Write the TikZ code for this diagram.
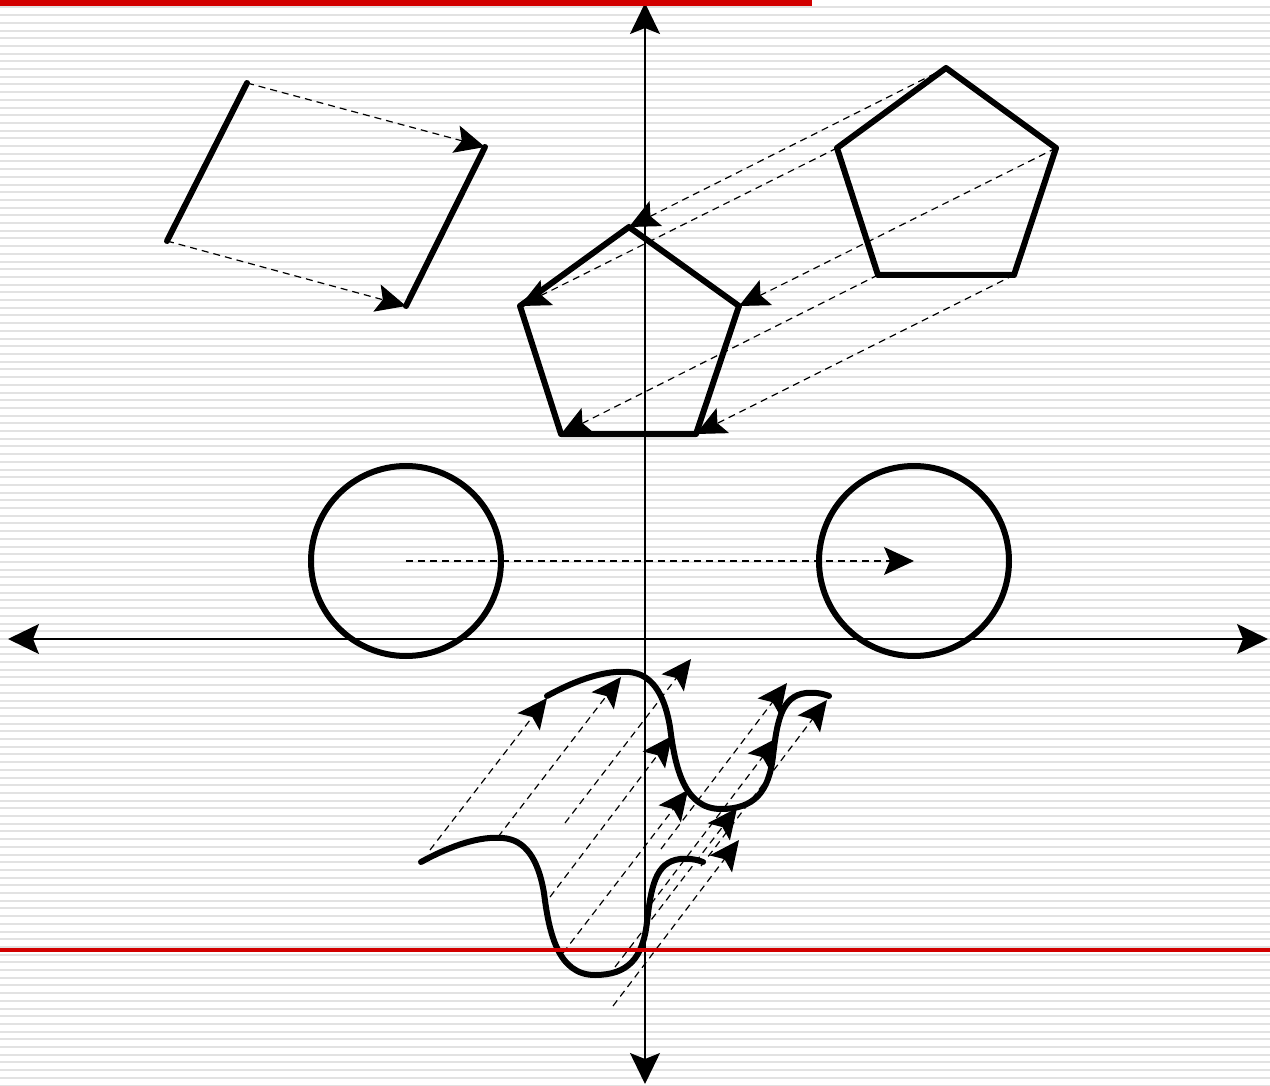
\documentclass[tikz,border=0pt]{standalone}
\usetikzlibrary{arrows.meta}
\definecolor{redline}{RGB}{210,0,0}
\definecolor{stripe}{RGB}{226,226,226}
\begin{document}
\begin{tikzpicture}[x=1pt,y=-1pt,
  shapeline/.style={line width=6pt, line cap=round, line join=round},
  mvarrow/.style={draw, line width=1.2pt, dash pattern=on 7pt off 5pt,
     arrows={-Stealth[length=30pt,width=28pt,inset=6pt]}},
  axisline/.style={line width=1.5pt,
     arrows={Stealth[length=31pt,width=30pt,inset=6pt]-Stealth[length=31pt,width=30pt,inset=6pt]}},
  redrule/.style={redline}]
\useasboundingbox (0,0) rectangle (1270,1086);
\fill[white] (0,0) rectangle (1270,1086);
\foreach \k in {-1,...,140} \fill[stripe] (0,{14.2+7.7*\k}) rectangle (1270,{16.2+7.7*\k});

% coordinates
\coordinate (ytop) at (645,3);
\coordinate (ybot) at (645,1084);
\coordinate (xl) at (8,639);
\coordinate (xr) at (1268,639);

% axes
\draw[axisline] (ytop) -- (ybot);
\draw[axisline] (xl) -- (xr);

% parallelogram (segment translation)
\coordinate (pa) at (247,83);
\coordinate (pb) at (167,241);
\coordinate (qa) at (485,147);
\coordinate (qb) at (406,306);
\draw[mvarrow] (pa) -- (qa);
\draw[mvarrow] (pb) -- (qb);
\draw[shapeline] (pa) -- (pb);
\draw[shapeline] (qa) -- (qb);

% pentagons
\coordinate (R1) at (946,68);
\coordinate (R2) at (1056,148);
\coordinate (R3) at (1014,275);
\coordinate (R4) at (878,275);
\coordinate (R5) at (837,148);
\coordinate (L1) at (629,227);
\coordinate (L2) at (739,306);
\coordinate (L3) at (696,434);
\coordinate (L4) at (561,434);
\coordinate (L5) at (520,306);
\foreach \i in {1,...,5} \draw[mvarrow] (R\i) -- (L\i);
\draw[shapeline] (R1) -- (R2) -- (R3) -- (R4) -- (R5) -- cycle;
\draw[shapeline] (L1) -- (L2) -- (L3) -- (L4) -- (L5) -- cycle;

% circles
\coordinate (c1) at (406,561);
\coordinate (c2) at (914,561);
\draw[mvarrow] (c1) -- (c2);
\draw[shapeline] (c1) circle[radius=95];
\draw[shapeline] (c2) circle[radius=95];

% curves
\def\mywave{(421,862) .. controls (452,845) and (480,836) .. (503,838)
  .. controls (525,840) and (538,858) .. (544,893)
  .. controls (549,933) and (558,975) .. (595,975)
  .. controls (628,975) and (643,958) .. (647,922)
  .. controls (651,888) and (655,862) .. (680,859)
  .. controls (690,858) and (698,860) .. (703,862)}
\coordinate (s1) at (430,850);  \coordinate (e1) at (547,698);
\coordinate (s2) at (498,837);  \coordinate (e2) at (621,677);
\coordinate (s3) at (565,823);  \coordinate (e3) at (691,659);
\coordinate (s4) at (550,897);  \coordinate (e4) at (672,736);
\coordinate (s5) at (563,953);  \coordinate (e5) at (688,790);
\coordinate (s6) at (615,967);  \coordinate (e6) at (737,808);
\coordinate (s7) at (613,1006); \coordinate (e7) at (739,840);
\coordinate (s8) at (661,849);  \coordinate (e8) at (787,683);
\coordinate (s9) at (651,904);  \coordinate (e9) at (777,738);
\coordinate (s10) at (701,866); \coordinate (e10) at (827,700);
\foreach \i in {1,...,10} \draw[mvarrow] (s\i) -- (e\i);
\draw[shapeline] \mywave;
\begin{scope}[shift={(126,-166)}]
\draw[shapeline] \mywave;
\end{scope}

% red rules
\fill[redrule] (0,0) rectangle (812,6);
\fill[redrule] (0,948.3) rectangle (1270,951.7);
\end{tikzpicture}
\end{document}
